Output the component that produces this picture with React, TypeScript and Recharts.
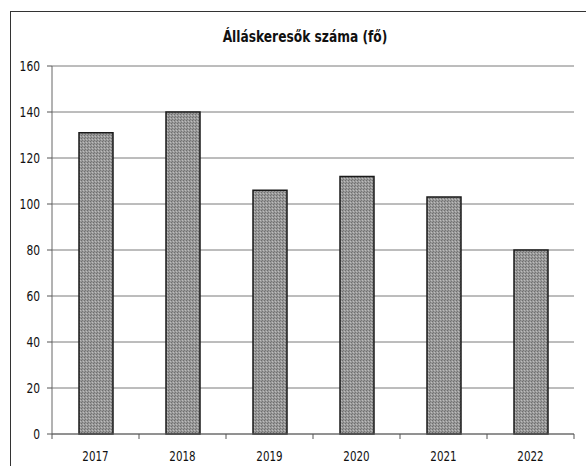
import { Bar, BarChart, CartesianGrid, XAxis, YAxis } from "recharts"

const years = ["2017", "2018", "2019", "2020", "2021", "2022"]
const jobseekers = [131, 140, 106, 112, 103, 80]
const yTicks = [0, 20, 40, 60, 80, 100, 120, 140, 160]

const data = years.map((year, i) => ({ year, value: jobseekers[i] }))

const FONT = "'DejaVu Sans Condensed', 'Liberation Sans', sans-serif"

// narrow-looking labels, like the Calibri in the original
function YearTick(props: any) {
  const { x, y, payload, index } = props
  const half = payload?.offset ?? 43.5
  return (
    <g>
      <line x1={x - half} y1={y} x2={x - half} y2={y + 5} stroke="#555" />
      {index === years.length - 1 && (
        <line x1={x + half} y1={y} x2={x + half} y2={y + 5} stroke="#555" />
      )}
      <text
        transform={`translate(${x},${y + 27}) scale(0.82,1)`}
        textAnchor="middle"
        fontSize={14}
        fill="#111"
        fontFamily={FONT}
      >
        {payload.value}
      </text>
    </g>
  )
}

function ValueTick(props: any) {
  const { x, y, payload } = props
  return (
    <text
      transform={`translate(${x},${y + 5}) scale(0.85,1)`}
      textAnchor="end"
      fontSize={14}
      fill="#111"
      fontFamily={FONT}
    >
      {payload.value}
    </text>
  )
}

export default function App() {
  return (
    <div
      style={{
        position: "absolute",
        left: 0,
        top: 0,
        width: 586,
        height: 466,
        overflow: "hidden",
        background: "#fff",
      }}
    >
      <div
        style={{
          position: "absolute",
          left: 10,
          top: 11,
          width: 600,
          height: 500,
          borderLeft: "1.5px solid #333",
          borderTop: "1.5px solid #333",
        }}
      />
      <div
        style={{
          position: "absolute",
          left: 0,
          width: 610,
          top: 27,
          textAlign: "center",
          fontFamily: FONT,
          fontWeight: "bold",
          fontSize: 16,
          color: "#111",
          transform: "scaleX(0.85)",
        }}
      >
        Álláskeresők száma (fő)
      </div>
      <BarChart
        width={586}
        height={466}
        data={data}
        margin={{ top: 66, right: 12, bottom: 0, left: 0 }}
        style={{ position: "absolute", left: 0, top: 0 }}
      >
        <defs>
          <pattern id="grain" width="3" height="3" patternUnits="userSpaceOnUse">
            <rect width="3" height="3" fill="#999" />
            <rect x="0" y="0" width="1" height="1" fill="#6e6e6e" />
            <rect x="2" y="1" width="1" height="1" fill="#bdbdbd" />
            <rect x="1" y="2" width="1" height="1" fill="#777" />
          </pattern>
        </defs>
        <CartesianGrid vertical={false} stroke="#7a7a7a" />
        <XAxis
          dataKey="year"
          height={32}
          axisLine={{ stroke: "#666" }}
          tickLine={false}
          tickSize={0}
          tickMargin={0}
          tick={<YearTick />}
          interval={0}
        />
        <YAxis
          width={52}
          domain={[0, 160]}
          ticks={yTicks}
          interval={0}
          axisLine={{ stroke: "#666" }}
          tickLine={{ stroke: "#555" }}
          tickSize={5}
          tickMargin={7}
          tick={<ValueTick />}
        />
        <Bar
          dataKey="value"
          fill="url(#grain)"
          stroke="#1a1a1a"
          strokeWidth={1.5}
          barSize={34}
          isAnimationActive={false}
        />
      </BarChart>
    </div>
  )
}
